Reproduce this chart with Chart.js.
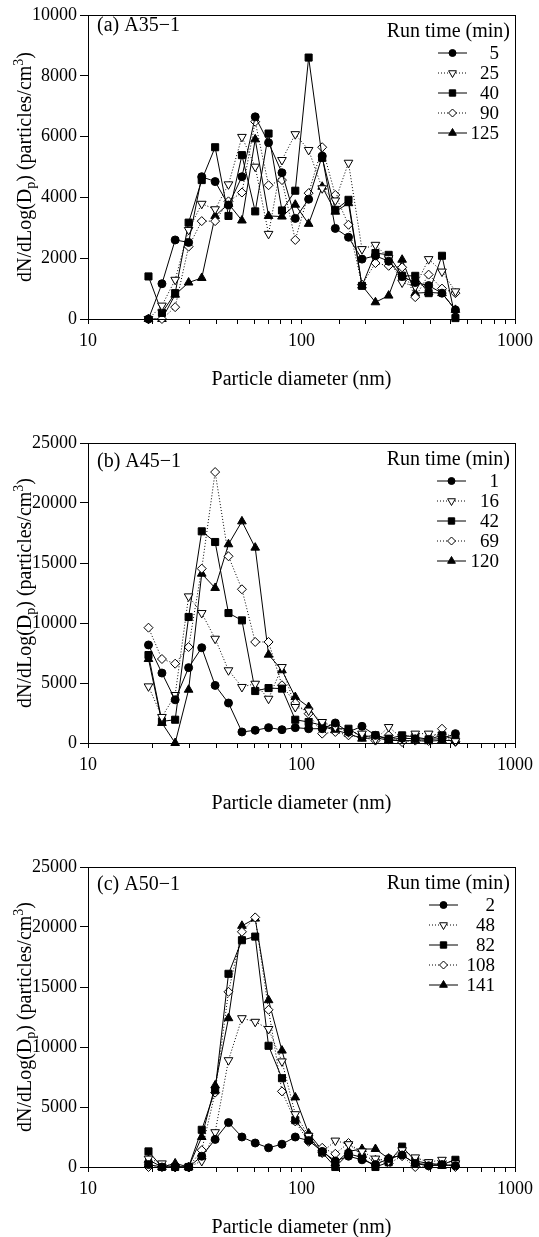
<!DOCTYPE html>
<html>
<head>
<meta charset="utf-8">
<script src="https://cdn.jsdelivr.net/npm/chart.js@4.4.1/dist/chart.umd.min.js"></script>
<style>
  html, body { margin: 0; padding: 0; background: #fff; }
  body { width: 539px; height: 1237px; position: relative; overflow: hidden; }
  canvas { position: absolute; left: 0; }
</style>
</head>
<body>
<canvas id="panelA" width="539" height="410" style="top:0px"></canvas>
<canvas id="panelB" width="539" height="410" style="top:420px"></canvas>
<canvas id="panelC" width="539" height="410" style="top:840px"></canvas>
<script>
// size bin mid-points (nm)
var diameters = [19.2, 22.2, 25.6, 29.6, 34.1, 39.4, 45.5, 52.6, 60.7, 70.1, 81.0, 93.5,
                 108, 125, 144, 166, 192, 222, 256, 296, 341, 394, 455, 526];
var decadeLabels = [10, 100, 1000];

// (a) A35-1, run times in minutes
var runsA = ["5", "25", "40", "90", "125"];
var a5   = [0, 1160, 2600, 2520, 4680, 4520, 3750, 4680, 6650, 5800, 4810, 3310,
            3940, 5360, 2980, 2690, 1970, 2080, 1900, 1400, 1200, 1100, 850, 300];
var a25  = [0, 440, 1290, 2930, 3790, 3610, 4430, 5990, 5010, 2800, 5230, 6080,
            5560, 4300, 3900, 5140, 2300, 2440, 2000, 1200, 1070, 1970, 1560, 910];
var a40  = [1400, 200, 850, 3170, 4570, 5650, 3390, 5390, 3540, 6100, 3570, 4220,
            8600, 5300, 3590, 3920, 1090, 2170, 2110, 1420, 1420, 850, 2080, 30];
var a90  = [0, 0, 390, 2380, 3220, 3220, 3870, 4160, 6490, 4400, 4570, 2600,
            4140, 5650, 4080, 3100, 1130, 1840, 1750, 1700, 720, 1460, 1000, 850];
var a125 = [0, 0, 800, 1200, 1350, 3390, 3790, 3240, 5910, 3390, 3370, 3760,
            3130, 4350, 3530, 3810, 1100, 550, 770, 1950, 850, 875, 850, 300];

// (b) A45-1
var runsB = ["1", "16", "42", "69", "120"];
var b1   = [8170, 5830, 3600, 6280, 7940, 4800, 3330, 920, 1060, 1280, 1110, 1280,
            1190, 1190, 1670, 920, 1390, 640, 280, 400, 350, 300, 360, 780];
var b16  = [4720, 2170, 4000, 12220, 10830, 8690, 6060, 4670, 4940, 3690, 6330, 3000,
            2700, 1750, 1330, 900, 780, 300, 1330, 400, 780, 780, 500, 150];
var b42  = [7330, 1800, 1940, 10500, 17640, 16750, 10830, 10220, 4330, 4580, 4530, 1940,
            1750, 1470, 1190, 1190, 500, 640, 360, 640, 500, 300, 640, 280];
var b69  = [9610, 7000, 6610, 8000, 14530, 22580, 15560, 12810, 8420, 8420, 4810, 3330,
            2440, 780, 920, 640, 500, 200, 640, 80, 200, 170, 1190, 100];
var b120 = [7000, 1670, 0, 4440, 14110, 12920, 16560, 18470, 16280, 7360, 6060, 3830,
            3000, 1390, 1060, 780, 360, 450, 220, 200, 200, 150, 220, 200];

// (c) A50-1
var runsC = ["2", "48", "82", "108", "141"];
var c2   = [200, 0, 0, 0, 900, 2300, 3700, 2500, 2000, 1600, 1900, 2500,
            2200, 1300, 500, 900, 600, 200, 700, 1000, 300, 100, 200, 100];
var c48  = [700, 300, 0, 0, 500, 2900, 8900, 12400, 12100, 11500, 8800, 4400,
            2600, 1200, 2200, 1900, 1300, 700, 500, 1400, 800, 400, 600, 300];
var c82  = [1300, 0, 0, 0, 3100, 6400, 16100, 18900, 19200, 10100, 7400, 3900,
            2500, 1200, 0, 1100, 800, 0, 400, 1700, 500, 300, 200, 600];
var c108 = [0, 0, 0, 0, 1400, 6200, 14600, 19600, 20800, 13100, 6300, 3800,
            2100, 1600, 1100, 2000, 900, 600, 300, 900, 0, 100, 300, 0];
var c141 = [600, 0, 300, 0, 2500, 6800, 12400, 20100, 20700, 13900, 9700, 5800,
            2800, 1400, 300, 1300, 1500, 1500, 700, 1000, 300, 200, 100, 200];

var serif = "'Liberation Serif', 'Times New Roman', 'DejaVu Serif', serif";

// marker + line look, same order in every panel
var seriesLook = [
  {shape: 'circle',   r: 4,   rot: 0,   fill: '#000', dash: []},
  {shape: 'triangle', r: 5,   rot: 180, fill: '#fff', dash: [1, 2]},
  {shape: 'rect',     r: 5,   rot: 0,   fill: '#000', dash: []},
  {shape: 'rectRot',  r: 4.5, rot: 0,   fill: '#fff', dash: [1, 2]},
  {shape: 'triangle', r: 5,   rot: 0,   fill: '#000', dash: []}
];

function makeDatasets(series, names) {
  return series.map(function(vals, k) {
    var look = seriesLook[k];
    return {
      label: names[k],
      data: diameters.map(function(d, i) { return {x: d, y: vals[i]}; }),
      borderColor: '#000',
      borderWidth: 1,
      borderDash: look.dash,
      pointStyle: look.shape,
      pointRotation: look.rot,
      pointRadius: look.r,
      pointBackgroundColor: look.fill,
      pointBorderColor: '#000',
      pointBorderWidth: 1,
      tension: 0,
      fill: false,
      clip: false
    };
  });
}

// box round the plot area
var framePlugin = {
  id: 'frame',
  afterDraw: function(chart) {
    var a = chart.chartArea, ctx = chart.ctx;
    ctx.save();
    ctx.strokeStyle = '#000';
    ctx.lineWidth = 1;
    ctx.strokeRect(Math.round(a.left) + 0.5, Math.round(a.top) + 0.5,
                   Math.round(a.right - a.left), Math.round(a.bottom - a.top));
    ctx.restore();
  }
};

// rotated y title with subscript p and superscript 3
var yTitlePlugin = {
  id: 'yTitle',
  afterDraw: function(chart) {
    var ctx = chart.ctx, a = chart.chartArea;
    var parts = [
      {t: 'dN/dLog(D', size: 20, dy: 0},
      {t: 'p', size: 14, dy: 4},
      {t: ') (particles/cm', size: 20, dy: 0},
      {t: '3', size: 14, dy: -8},
      {t: ')', size: 20, dy: 0}
    ];
    ctx.save();
    ctx.fillStyle = '#000';
    ctx.textBaseline = 'alphabetic';
    var total = 0;
    parts.forEach(function(p) {
      ctx.font = p.size + 'px ' + serif;
      p.w = ctx.measureText(p.t).width;
      total += p.w;
    });
    ctx.translate(24, (a.top + a.bottom) / 2);
    ctx.rotate(-Math.PI / 2);
    var x = -total / 2;
    parts.forEach(function(p) {
      ctx.font = p.size + 'px ' + serif;
      ctx.fillText(p.t, x, 7 + p.dy);
      x += p.w;
    });
    ctx.restore();
  }
};

// panel tag and "Run time" key drawn inside the plot
var keyPlugin = {
  id: 'runKey',
  afterDraw: function(chart, args, opts) {
    var ctx = chart.ctx, a = chart.chartArea;
    ctx.save();
    ctx.fillStyle = '#000';
    ctx.textBaseline = 'middle';

    ctx.font = '20px ' + serif;
    ctx.textAlign = 'left';
    ctx.fillText(opts.tag, a.left + 9, a.top + opts.tagY);

    ctx.textAlign = 'right';
    ctx.fillText('Run time (min)', opts.headRight, a.top + 17);

    ctx.font = '19px ' + serif;
    chart.data.datasets.forEach(function(ds, k) {
      var look = seriesLook[k];
      var y = a.top + 38 + k * 20;
      ctx.strokeStyle = '#000';
      ctx.lineWidth = 1;
      ctx.setLineDash(look.dash);
      ctx.beginPath();
      ctx.moveTo(opts.lineFrom, y);
      ctx.lineTo(opts.lineTo, y);
      ctx.stroke();
      ctx.setLineDash([]);
      ctx.fillStyle = look.fill;
      Chart.helpers.drawPoint(ctx, {pointStyle: look.shape, rotation: look.rot,
        radius: look.r - 0.5, borderWidth: 1}, (opts.lineFrom + opts.lineTo) / 2, y);
      ctx.fillStyle = '#000';
      ctx.fillText(ds.label, opts.numRight, y + 1);
    });
    ctx.restore();
  }
};

function makePanel(id, series, names, yMax, yStep, layout, key) {
  var canvasH = 410;
  var xH = layout.canvasTop + canvasH - layout.plotBottom;
  var titlePad = (layout.canvasTop + canvasH) - (layout.plotBottom + 61) - 12;
  var ctx = document.getElementById(id).getContext('2d');
  new Chart(ctx, {
    type: 'line',
    data: {datasets: makeDatasets(series, names)},
    options: {
      responsive: false,
      animation: false,
      layout: {padding: {top: layout.plotTop - layout.canvasTop, right: 15, bottom: 0, left: 0}},
      plugins: {
        legend: {display: false},
        tooltip: {enabled: false},
        runKey: key
      },
      scales: {
        x: {
          type: 'logarithmic',
          min: 10,
          max: 1000,
          afterFit: function(s) { s.height = xH; },
          border: {color: '#000', width: 1},
          grid: {drawOnChartArea: false, drawTicks: true, tickLength: 5, tickColor: '#000'},
          ticks: {
            autoSkip: false, maxRotation: 0, padding: 6, color: '#000',
            font: {family: serif, size: 18},
            callback: function(v) { return decadeLabels.indexOf(v) >= 0 ? String(v) : ''; }
          },
          title: {
            display: true, text: 'Particle diameter (nm)', color: '#000',
            font: {family: serif, size: 20}, padding: {top: 0, bottom: titlePad}
          }
        },
        y: {
          min: 0,
          max: yMax,
          afterFit: function(s) { s.width = 88; },
          border: {color: '#000', width: 1},
          grid: {drawOnChartArea: false, drawTicks: true, tickLength: 8, tickColor: '#000'},
          ticks: {
            stepSize: yStep, padding: 3, color: '#000', font: {family: serif, size: 18},
            callback: function(v) { return String(v); }
          }
        }
      }
    },
    plugins: [framePlugin, yTitlePlugin, keyPlugin]
  });
}

makePanel('panelA', [a5, a25, a40, a90, a125], runsA, 10000, 2000,
  {canvasTop: 0, plotTop: 15, plotBottom: 319},
  {tag: '(a) A35\u22121', tagY: 11, headRight: 510, lineFrom: 438, lineTo: 467, numRight: 499});
makePanel('panelB', [b1, b16, b42, b69, b120], runsB, 25000, 5000,
  {canvasTop: 420, plotTop: 443, plotBottom: 743},
  {tag: '(b) A45\u22121', tagY: 19, headRight: 510, lineFrom: 437, lineTo: 466, numRight: 499});
makePanel('panelC', [c2, c48, c82, c108, c141], runsC, 25000, 5000,
  {canvasTop: 840, plotTop: 867, plotBottom: 1167},
  {tag: '(c) A50\u22121', tagY: 18, headRight: 510, lineFrom: 429, lineTo: 458, numRight: 495});
</script>
</body>
</html>
